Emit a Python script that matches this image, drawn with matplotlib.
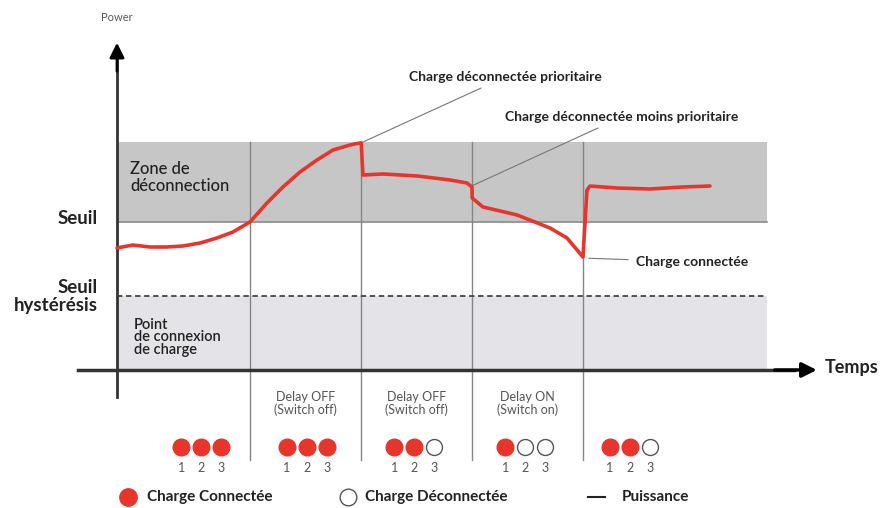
import numpy as np
import matplotlib
matplotlib.use("Agg")
import matplotlib.pyplot as plt

plt.rcParams['font.family'] = ['Lato', 'DejaVu Sans']

# --- data (time units, power units) ---
curve_t = [0.0, 0.144, 0.297, 0.450, 0.595, 0.748, 0.901, 1.045, 1.198, 1.351, 1.495,
           1.649, 1.802, 1.946, 2.099, 2.189, 2.2,
           2.216, 2.396, 2.703, 3.0, 3.153, 3.198, 3.2,
           3.297, 3.604, 3.901, 4.054, 4.198,
           4.234, 4.261, 4.505, 4.802, 5.099, 5.342]
curve_p = [1.649, 1.689, 1.662, 1.662, 1.676, 1.716, 1.784, 1.865, 2.0, 2.257, 2.473,
           2.676, 2.838, 2.973, 3.041, 3.068, 3.068,
           2.635, 2.649, 2.622, 2.568, 2.527, 2.473, 2.324,
           2.203, 2.095, 1.919, 1.784, 1.527,
           2.432, 2.486, 2.459, 2.446, 2.473, 2.486]

seuil = 2.0
seuil_hyst = 1.0
zone_top = 3.08
t_end = 5.86
events = [1.2, 2.2, 3.2, 4.2]
delay_labels = ["Delay OFF\n(Switch off)", "Delay OFF\n(Switch off)", "Delay ON\n(Switch on)"]
group_centers = [0.76, 1.71, 2.68, 3.68, 4.62]
load_states = [[1, 1, 1], [1, 1, 1], [1, 1, 0], [1, 0, 0], [1, 1, 0]]
load_ids = ["1", "2", "3"]

RED = "#e8352b"
DARK = "#333333"

fig = plt.figure(figsize=(8.8, 5.08), dpi=100)
ax = fig.add_axes([0, 0, 1, 1])
ax.set_xlim(-1.054, 6.874)
ax.set_ylim(-1.865, 5.0)
ax.set_axis_off()

# zones
ax.fill_between([0, t_end], seuil, zone_top, color="#c6c6c6", lw=0, zorder=0)
ax.fill_between([0, t_end], 0, seuil_hyst, color="#e4e4e8", lw=0, zorder=0)
ax.plot([0, t_end], [seuil, seuil], color="#8a8a8a", lw=1.2, zorder=1)
ax.plot([0, t_end], [seuil_hyst, seuil_hyst], color="#444444", lw=1.3,
        ls=(0, (3, 2)), zorder=2)

# event lines
for e in events:
    ax.plot([e, e], [zone_top, -1.22], color="#858585", lw=1.0, zorder=1)

# axes arrows
ax.plot([0, 0], [-0.36, 4.2], color=DARK, lw=2, zorder=3)
ax.annotate("", xy=(0, 4.46), xytext=(0, 4.0),
            arrowprops=dict(arrowstyle="-|>", color="black", lw=2, mutation_scale=22))
ax.plot([-0.35, 6.1], [0, 0], color=DARK, lw=2.5, zorder=3)
ax.annotate("", xy=(6.33, 0), xytext=(5.9, 0),
            arrowprops=dict(arrowstyle="-|>", color="black", lw=2.5, mutation_scale=22))
ax.text(0.0, 4.77, "Power", ha="center", va="center", fontsize=8,
        color="#555555")
ax.text(6.38, 0.04, "Temps", ha="left", va="center", fontsize=13,
        fontweight="bold", color="#222222")

# power curve
ax.plot(curve_t, curve_p, color=RED, lw=2.6, zorder=4, solid_joinstyle="round",
        solid_capstyle="round")

# left labels
ax.text(-0.17, 2.05, "Seuil", ha="right", va="center", fontsize=13.5,
        fontweight="bold", color="#222222")
ax.text(-0.17, 0.99, "Seuil\nhystérésis", ha="right", va="center", fontsize=13.5,
        fontweight="bold", color="#222222", linespacing=1.1)
ax.text(0.12, 2.6, "Zone de\ndéconnection", ha="left", va="center", fontsize=12,
        fontweight="medium", color="#222222", linespacing=1.1)
ax.text(0.15, 0.44, "Point\nde connexion\nde charge", ha="left", va="center", fontsize=10.5,
        fontweight="semibold", color="#222222", linespacing=0.9)

# annotations
ann = dict(color="#777777", lw=0.8)
ax.annotate("Charge déconnectée prioritaire", xy=(2.2, 3.07), xytext=(2.63, 3.96),
            fontsize=10, fontweight="bold", color="#222222", va="center", ha="left",
            arrowprops=dict(arrowstyle="-", shrinkA=4, shrinkB=0, **ann))
ax.annotate("Charge déconnectée moins prioritaire", xy=(3.2, 2.49), xytext=(3.5, 3.42),
            fontsize=10, fontweight="bold", color="#222222", va="center", ha="left",
            arrowprops=dict(arrowstyle="-", shrinkA=4, shrinkB=0, **ann))
ax.annotate("Charge connectée", xy=(4.25, 1.51), xytext=(4.68, 1.46),
            fontsize=10, fontweight="bold", color="#222222", va="center", ha="left",
            arrowprops=dict(arrowstyle="-", shrinkA=4, shrinkB=0, **ann))

# delay labels
for i, lab in enumerate(delay_labels):
    mid = (events[i] + events[i + 1]) / 2
    ax.text(mid, -0.45, lab, ha="center", va="center", fontsize=9,
            color="#555555", linespacing=1.0)

# load dots
spacing = 0.18
for c, states in zip(group_centers, load_states):
    for k, s in enumerate(states):
        xk = c + (k - 1) * spacing
        if s:
            ax.plot(xk, -1.04, "o", ms=12, mfc=RED, mec=RED, zorder=5)
        else:
            ax.plot(xk, -1.04, "o", ms=11.5, mfc="white", mec="#555555", mew=1, zorder=5)
        ax.text(xk, -1.32, load_ids[k], ha="center", va="center", fontsize=9,
                color="#555555")

# legend
ax.plot(0.1, -1.72, "o", ms=12.5, mfc=RED, mec=RED)
ax.text(0.27, -1.72, "Charge Connectée", ha="left", va="center", fontsize=11,
        fontweight="bold", color="#222222")
ax.plot(2.08, -1.72, "o", ms=12, mfc="white", mec="#555555", mew=1)
ax.text(2.23, -1.72, "Charge Déconnectée", ha="left", va="center", fontsize=11,
        fontweight="bold", color="#222222")
ax.plot([4.24, 4.40], [-1.72, -1.72], color="#222222", lw=1.5)
ax.text(4.55, -1.72, "Puissance", ha="left", va="center", fontsize=11,
        fontweight="bold", color="#222222")

fig.savefig("out.png", dpi=100)
